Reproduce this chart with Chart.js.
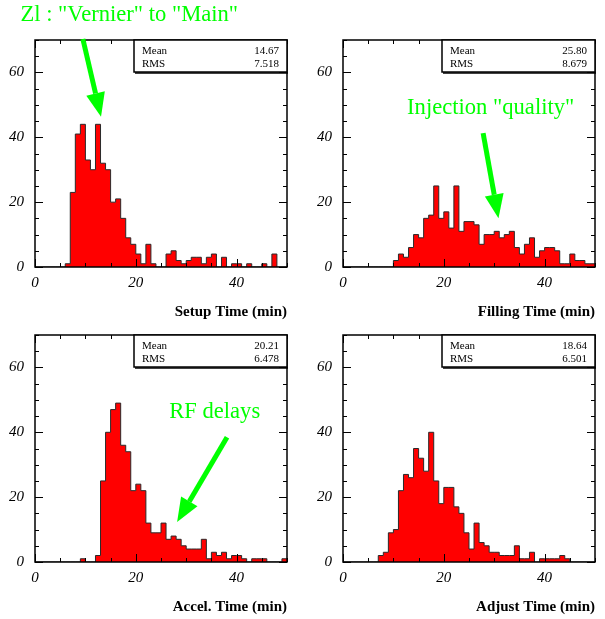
<!DOCTYPE html>
<html>
<head>
<meta charset="utf-8">
<script src="https://cdn.jsdelivr.net/npm/chart.js@4.4.0/dist/chart.umd.min.js"></script>
<style>
  html, body { margin: 0; padding: 0; background: #fff; }
  body { width: 605px; height: 619px; position: relative; overflow: hidden; }
  .panel { position: absolute; width: 297px; height: 324px; }
</style>
</head>
<body>
<div class="panel" style="left:0;top:0"><canvas id="setupChart" width="297" height="324"></canvas></div>
<div class="panel" style="left:308px;top:0"><canvas id="fillingChart" width="297" height="324"></canvas></div>
<div class="panel" style="left:0;top:295px"><canvas id="accelChart" width="297" height="324"></canvas></div>
<div class="panel" style="left:308px;top:295px"><canvas id="adjustChart" width="297" height="324"></canvas></div>
<script>
// ---------- Data (one bin per minute, 0..50) ----------
const binWidth = 1;
const xMin = 0;
const xMax = 50;
const yMax = 70;
const xTickValues = [0, 20, 40];
const yTickValues = [0, 20, 40, 60];
const minorStep = 5;

const setupCounts = [0,0,0,0,0,0,1,23,41,44,33,30,44,32,30,20,21,15,9,7,4,1,7,1,0,0,4,5,2,1,2,3,3,1,3,4,0,3,0,1,1,0,1,0,0,1,0,4,0,0];
const fillingCounts = [0,0,0,0,0,0,0,0,0,0,2,4,3,6,10,9,15,16,25,15,17,12,25,11,14,14,13,7,10,10,11,9,10,11,6,4,7,9,3,5,6,6,5,1,1,4,2,2,1,1];
const accelCounts = [0,0,0,0,0,0,0,0,0,1,0,0,2,25,40,47,49,36,34,22,24,22,12,9,9,12,7,8,7,5,4,4,4,7,1,3,2,3,1,2,2,1,0,1,1,1,0,0,0,1];
const adjustCounts = [0,0,0,0,0,0,0,2,3,9,10,22,27,26,35,32,28,40,25,18,23,23,17,15,9,4,12,6,5,3,3,2,2,2,5,1,1,3,0,1,1,1,1,2,1,0,0,0,0,0];

const axisTitles = ["Setup Time (min)", "Filling Time (min)", "Accel. Time (min)", "Adjust Time (min)"];
const statMeans = ["14.67", "25.80", "20.21", "18.64"];
const statRms = ["7.518", "8.679", "6.478", "6.501"];

// annotations: text position and arrow (start -> tip) in data units
const notes = [
  { text: 'Zl : "Vernier" to "Main"', tx: 18.7, ty: 77.7, from: [9.5, 70.3], to: [13.1, 46.3] },
  { text: 'Injection "quality"', tx: 29.3, ty: 49.0, from: [27.8, 41.3], to: [30.85, 15.0] },
  { text: "RF delays", tx: 35.65, ty: 46.3, from: [38.1, 38.5], to: [28.2, 12.3] },
  null,
];

const GREEN = "#00ff00";
const SERIF = "'Liberation Serif', 'Times New Roman', serif";

// ---------- Decoration plugin ----------
function drawArrow(ctx, x0, y0, x1, y1) {
  const ang = Math.atan2(y1 - y0, x1 - x0);
  const headLen = 24, headHalf = 9.5;
  const bx = x1 - headLen * Math.cos(ang);
  const by = y1 - headLen * Math.sin(ang);
  ctx.strokeStyle = GREEN;
  ctx.fillStyle = GREEN;
  ctx.lineWidth = 5;
  ctx.lineCap = "butt";
  ctx.beginPath();
  ctx.moveTo(x0, y0);
  ctx.lineTo(bx, by);
  ctx.stroke();
  const nx = -Math.sin(ang), ny = Math.cos(ang);
  ctx.beginPath();
  ctx.moveTo(x1, y1);
  ctx.lineTo(bx + nx * headHalf, by + ny * headHalf);
  ctx.lineTo(bx - nx * headHalf, by - ny * headHalf);
  ctx.closePath();
  ctx.fill();
}

const histDecor = {
  id: "histDecor",
  afterDatasetsDraw(chart, args, opts) {
    const { ctx, chartArea: a, scales: { x, y } } = chart;
    ctx.save();
    ctx.strokeStyle = "#000";
    ctx.lineWidth = 1;

    // inward ticks on all four sides
    ctx.beginPath();
    for (let v = xMin; v <= xMax; v += minorStep) {
      const px = Math.round(x.getPixelForValue(v)) + 0.5;
      const len = v % 20 === 0 ? 8 : 4;
      ctx.moveTo(px, a.bottom); ctx.lineTo(px, a.bottom - len);
      ctx.moveTo(px, a.top); ctx.lineTo(px, a.top + len);
    }
    for (let v = 0; v <= yMax; v += minorStep) {
      const py = Math.round(y.getPixelForValue(v)) + 0.5;
      const len = v % 20 === 0 ? 8 : 4;
      ctx.moveTo(a.left, py); ctx.lineTo(a.left + len, py);
      ctx.moveTo(a.right, py); ctx.lineTo(a.right - len, py);
    }
    ctx.stroke();

    // frame
    ctx.lineWidth = 1.5;
    ctx.strokeRect(a.left, a.top, a.right - a.left, a.bottom - a.top);

    // stats box
    const bw = 153, bh = 32;
    const bx = a.right - bw, by = a.top;
    ctx.fillStyle = "#fff";
    ctx.fillRect(bx, by, bw, bh);
    ctx.lineWidth = 1.5;
    ctx.strokeRect(bx, by, bw, bh);
    ctx.beginPath();
    ctx.moveTo(bx + 1, by + bh + 1); ctx.lineTo(a.right + 1, by + bh + 1);
    ctx.stroke();
    ctx.fillStyle = "#000";
    ctx.font = "11px " + SERIF;
    ctx.textBaseline = "middle";
    ctx.textAlign = "left";
    ctx.fillText("Mean", bx + 8, by + 11);
    ctx.fillText("RMS", bx + 8, by + 24);
    ctx.textAlign = "right";
    ctx.fillText(opts.mean, a.right - 8, by + 11);
    ctx.fillText(opts.rms, a.right - 8, by + 24);

    // green annotation
    const n = opts.note;
    if (n) {
      ctx.fillStyle = GREEN;
      ctx.font = "22.6px " + SERIF;
      ctx.textAlign = "center";
      ctx.textBaseline = "middle";
      ctx.fillText(n.text, x.getPixelForValue(n.tx), y.getPixelForValue(n.ty));
      drawArrow(ctx,
        x.getPixelForValue(n.from[0]), y.getPixelForValue(n.from[1]),
        x.getPixelForValue(n.to[0]), y.getPixelForValue(n.to[1]));
    }
    ctx.restore();
  },
};

// ---------- Panels ----------
function makePanel(canvasId, counts, idx) {
  const pts = counts.map((c, i) => ({ x: xMin + i * binWidth, y: c }));
  pts.push({ x: xMin + counts.length * binWidth, y: counts[counts.length - 1] });

  return new Chart(document.getElementById(canvasId), {
    type: "line",
    data: {
      datasets: [{
        data: pts,
        stepped: "before",
        fill: "origin",
        backgroundColor: "#ff0000",
        borderColor: "#2a2a2a",
        borderWidth: 1,
        pointRadius: 0,
        tension: 0,
      }],
    },
    options: {
      responsive: false,
      animation: false,
      devicePixelRatio: 1,
      layout: { padding: { top: 40, right: 10, left: 0, bottom: 3 } },
      plugins: {
        legend: { display: false },
        tooltip: { enabled: false },
        histDecor: { mean: statMeans[idx], rms: statRms[idx], note: notes[idx] },
      },
      scales: {
        x: {
          type: "linear",
          min: xMin,
          max: xMax,
          grid: { display: false, drawTicks: false },
          border: { display: false },
          afterBuildTicks: (axis) => { axis.ticks = xTickValues.map((v) => ({ value: v })); },
          afterFit: (s) => { s.height = 54; },
          ticks: {
            padding: 7,
            maxRotation: 0,
            color: "#000",
            font: { family: SERIF, size: 15, style: "italic" },
          },
          title: {
            display: true,
            text: axisTitles[idx],
            align: "end",
            color: "#000",
            padding: { top: 0, bottom: 0 },
            font: { family: SERIF, size: 15, weight: "bold" },
          },
        },
        y: {
          min: 0,
          max: yMax,
          grid: { display: false, drawTicks: false },
          border: { display: false },
          afterBuildTicks: (axis) => { axis.ticks = yTickValues.map((v) => ({ value: v })); },
          afterFit: (s) => { s.width = 35; },
          ticks: {
            padding: 11,
            color: "#000",
            font: { family: SERIF, size: 15, style: "italic" },
          },
        },
      },
    },
    plugins: [histDecor],
  });
}

makePanel("setupChart", setupCounts, 0);
makePanel("fillingChart", fillingCounts, 1);
makePanel("accelChart", accelCounts, 2);
makePanel("adjustChart", adjustCounts, 3);
</script>
</body>
</html>
